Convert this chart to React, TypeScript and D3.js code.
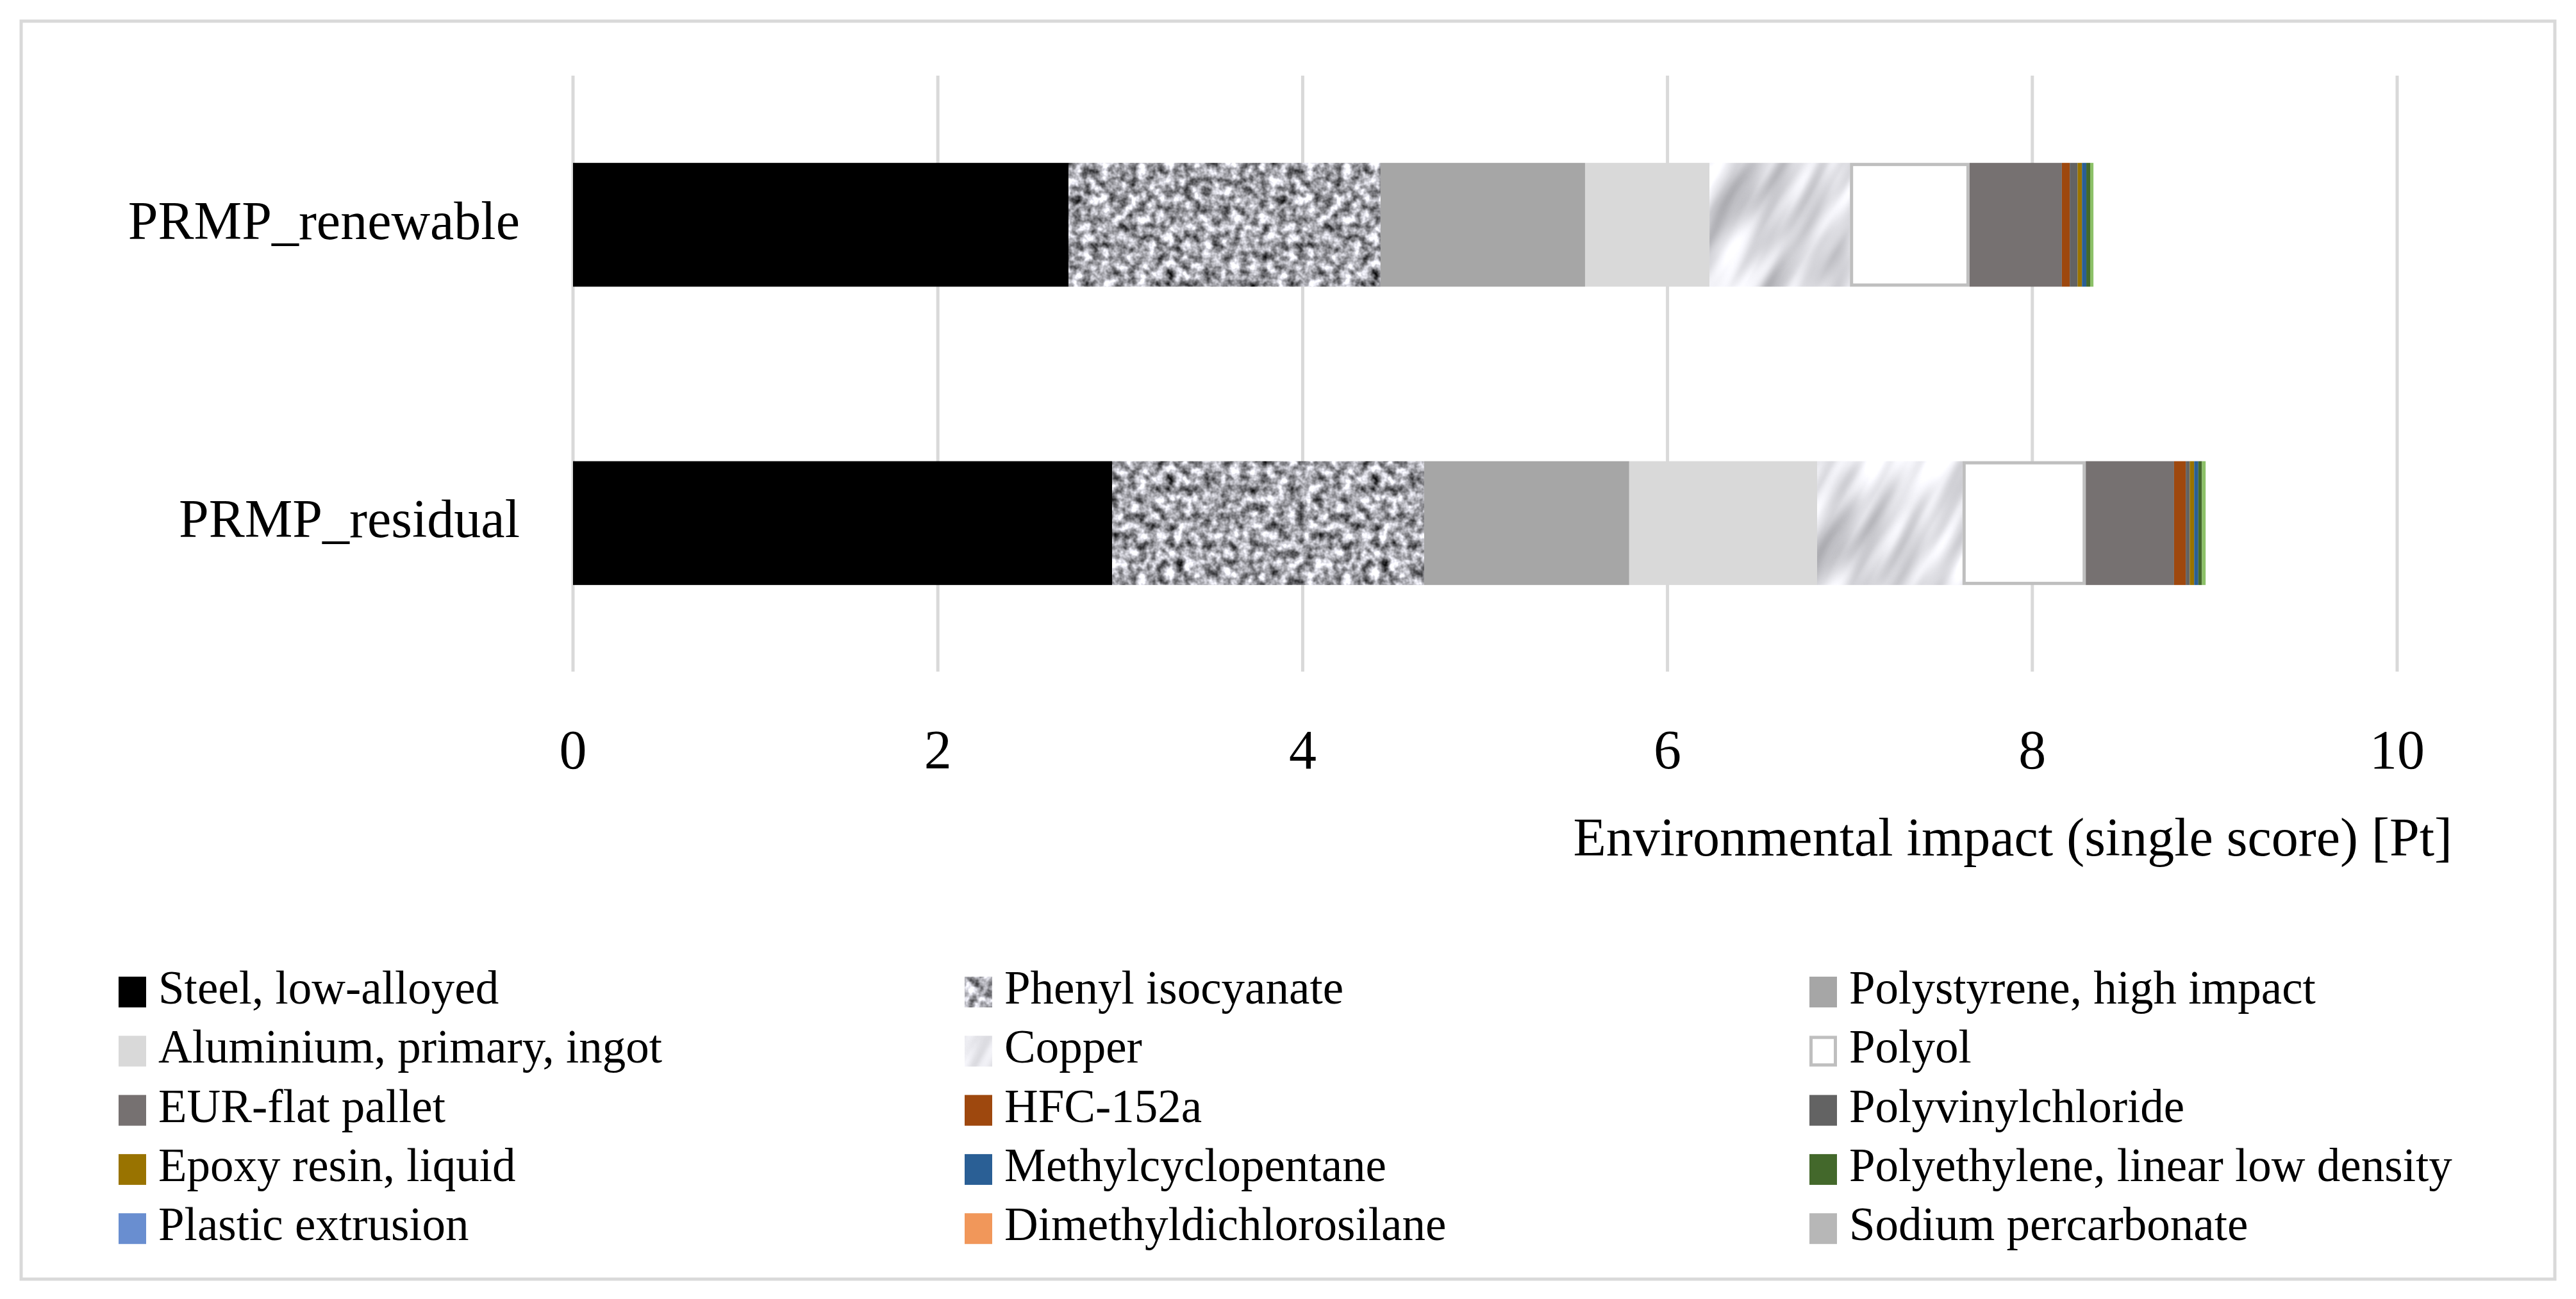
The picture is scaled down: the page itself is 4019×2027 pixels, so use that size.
import React, { useEffect, useRef } from "react";
import * as d3 from "d3";

// scenarios (bars, top to bottom)
const categories = ["PRMP_renewable", "PRMP_residual"];

// stacked materials, in drawing order
const materials = [
    "Steel, low-alloyed",
    "Phenyl isocyanate",
    "Polystyrene, high impact",
    "Aluminium, primary, ingot",
    "Copper",
    "Polyol",
    "EUR-flat pallet",
    "HFC-152a",
    "Polyvinylchloride",
    "Epoxy resin, liquid",
    "Methylcyclopentane",
    "Polyethylene, linear low density",
    "Plastic extrusion",
    "Dimethyldichlorosilane",
    "Sodium percarbonate",
    "Other",
];

// single score [Pt] per material
const renewableValues = [2.716, 1.711, 1.121, 0.682, 0.77, 0.656, 0.506, 0.043, 0.043, 0.024, 0.024, 0.021, 0, 0, 0, 0.018];
const residualValues = [2.955, 1.711, 1.124, 1.03, 0.797, 0.676, 0.484, 0.064, 0.022, 0.024, 0.023, 0.02, 0, 0, 0, 0.02];

const xTicks = [0, 2, 4, 6, 8, 10];
const legendItems = materials.slice(0, 15);

const fills = [
    "#000000",
    "url(#granite)",
    "#a6a6a6",
    "#d9d9d9",
    "url(#marble)",
    "#ffffff",
    "#767171",
    "#9e480e",
    "#636363",
    "#997300",
    "#2a5f95",
    "#43682b",
    "#698ed0",
    "#f1975a",
    "#b7b7b7",
    "#8cc168",
];

const FONT = "'Liberation Serif', 'Times New Roman', serif";

interface Row {
    category: string;
    [key: string]: number | string;
}

const App: React.FC = () => {
    const svgRef = useRef<SVGSVGElement | null>(null);

    useEffect(() => {
        if (!svgRef.current) return;
        const svg = d3.select(svgRef.current);
        svg.selectAll("*").remove();

        const W = 4019;
        const H = 2027;
        svg.attr("width", W).attr("height", H);

        // textures
        const defs = svg.append("defs");
        const granite = defs
            .append("filter")
            .attr("id", "graniteF")
            .attr("filterUnits", "userSpaceOnUse")
            .attr("x", 0)
            .attr("y", 0)
            .attr("width", 320)
            .attr("height", 320)
            .attr("color-interpolation-filters", "sRGB");
        granite
            .append("feTurbulence")
            .attr("type", "fractalNoise")
            .attr("baseFrequency", 0.07)
            .attr("numOctaves", 3)
            .attr("seed", 3)
            .attr("stitchTiles", "stitch");
        granite
            .append("feColorMatrix")
            .attr("type", "matrix")
            .attr("values", "1.5 0 0 0 -0.1  1.5 0 0 0 -0.1  1.55 0 0 0 -0.1  0 0 0 0 1");
        defs.append("pattern")
            .attr("id", "granite")
            .attr("patternUnits", "userSpaceOnUse")
            .attr("width", 320)
            .attr("height", 320)
            .append("rect")
            .attr("width", 320)
            .attr("height", 320)
            .attr("filter", "url(#graniteF)");

        const marble = defs
            .append("filter")
            .attr("id", "marbleF")
            .attr("filterUnits", "userSpaceOnUse")
            .attr("x", 0)
            .attr("y", 0)
            .attr("width", 400)
            .attr("height", 400)
            .attr("color-interpolation-filters", "sRGB");
        marble
            .append("feTurbulence")
            .attr("type", "fractalNoise")
            .attr("baseFrequency", "0.006 0.025")
            .attr("numOctaves", 2)
            .attr("seed", 7)
            .attr("stitchTiles", "stitch");
        marble
            .append("feColorMatrix")
            .attr("type", "matrix")
            .attr("values", "0.7 0 0 0 0.54  0.7 0 0 0 0.54  0.7 0 0 0 0.56  0 0 0 0 1");
        defs.append("pattern")
            .attr("id", "marble")
            .attr("patternUnits", "userSpaceOnUse")
            .attr("width", 400)
            .attr("height", 400)
            .attr("patternTransform", "rotate(-60)")
            .append("rect")
            .attr("width", 400)
            .attr("height", 400)
            .attr("filter", "url(#marbleF)");

        // frame
        svg.append("rect")
            .attr("x", 33)
            .attr("y", 33)
            .attr("width", 3953)
            .attr("height", 1963)
            .attr("fill", "#ffffff")
            .attr("stroke", "#d9d9d9")
            .attr("stroke-width", 5);

        const x = d3.scaleLinear().domain([0, 10]).range([894, 3740]);
        const y = d3
            .scaleBand()
            .domain(categories)
            .range([118, 1049])
            .paddingInner(0.585)
            .paddingOuter(0.2925);

        // gridlines
        svg.append("g")
            .selectAll("line")
            .data(xTicks)
            .enter()
            .append("line")
            .attr("x1", (d) => x(d))
            .attr("x2", (d) => x(d))
            .attr("y1", 118)
            .attr("y2", 1048)
            .attr("stroke", "#d9d9d9")
            .attr("stroke-width", 5);

        // tick labels
        svg.append("g")
            .selectAll("text")
            .data(xTicks)
            .enter()
            .append("text")
            .attr("x", (d) => x(d))
            .attr("y", 1199)
            .attr("text-anchor", "middle")
            .style("font-family", FONT)
            .style("font-size", "86px")
            .attr("fill", "#000")
            .text((d) => d);

        svg.append("text")
            .attr("x", 3826)
            .attr("y", 1335)
            .attr("text-anchor", "end")
            .style("font-family", FONT)
            .style("font-size", "84px")
            .attr("fill", "#000")
            .text("Environmental impact (single score) [Pt]");

        // category labels
        svg.append("g")
            .selectAll("text")
            .data(categories)
            .enter()
            .append("text")
            .attr("x", 811)
            .attr("y", (d) => (y(d) ?? 0) + y.bandwidth() / 2 + 22)
            .attr("text-anchor", "end")
            .style("font-family", FONT)
            .style("font-size", "84px")
            .attr("fill", "#000")
            .text((d) => d);

        // stacked bars
        const rows: Row[] = categories.map((c, ci) => {
            const r: Row = { category: c };
            const vals = ci === 0 ? renewableValues : residualValues;
            materials.forEach((m, i) => (r[m] = vals[i]));
            return r;
        });
        const stacked = d3.stack<Row>().keys(materials)(rows);

        const layers = svg
            .append("g")
            .selectAll("g")
            .data(stacked)
            .enter()
            .append("g")
            .attr("fill", (d, i) => fills[i]);

        layers
            .selectAll("rect")
            .data((d) => d.map((p) => ({ p, key: d.key })))
            .enter()
            .append("rect")
            .attr("x", (d) => x(d.p[0]) + (d.key === "Polyol" ? 2.5 : 0))
            .attr("y", (d) => (y(d.p.data.category) ?? 0) + (d.key === "Polyol" ? 2.5 : 0))
            .attr("width", (d) =>
                Math.max(0, x(d.p[1]) - x(d.p[0]) - (d.key === "Polyol" ? 5 : 0))
            )
            .attr("height", (d) => y.bandwidth() - (d.key === "Polyol" ? 5 : 0))
            .attr("stroke", (d) => (d.key === "Polyol" ? "#bfbfbf" : "none"))
            .attr("stroke-width", 5);

        // legend
        const legend = svg
            .append("g")
            .selectAll("g")
            .data(legendItems)
            .enter()
            .append("g")
            .attr(
                "transform",
                (d, i) => `translate(${[185, 1505, 2823][i % 3]}, ${1524 + Math.floor(i / 3) * 92.3})`
            );

        legend
            .append("rect")
            .attr("x", (d) => (d === "Polyol" ? 2.5 : 0))
            .attr("y", (d) => (d === "Polyol" ? 2.5 : 0))
            .attr("width", (d) => (d === "Polyol" ? 38 : 43))
            .attr("height", (d) => (d === "Polyol" ? 43 : 48))
            .attr("fill", (d) => fills[materials.indexOf(d)])
            .attr("stroke", (d) => (d === "Polyol" ? "#bfbfbf" : "none"))
            .attr("stroke-width", 5);

        legend
            .append("text")
            .attr("x", 62)
            .attr("y", 42)
            .style("font-family", FONT)
            .style("font-size", "73px")
            .attr("fill", "#000")
            .text((d) => d);
    }, []);

    return (
        <svg
            ref={svgRef}
            style={{ position: "absolute", left: 0, top: 0, background: "#ffffff" }}
        ></svg>
    );
};

export default App;
